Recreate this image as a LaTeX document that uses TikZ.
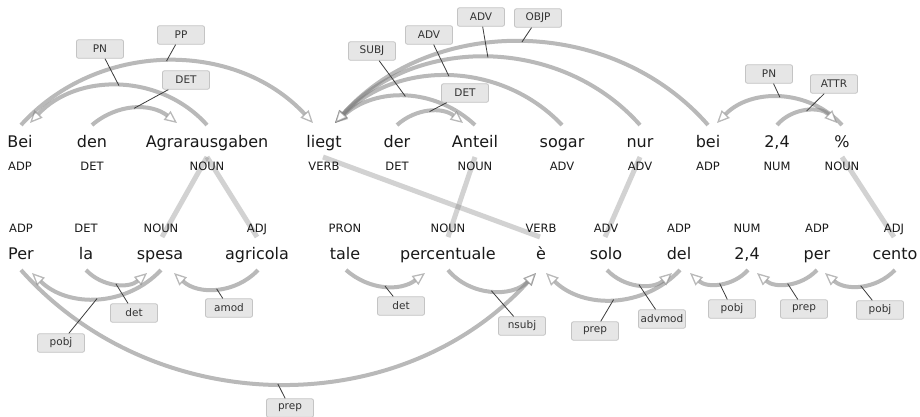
\documentclass[tikz,border=0pt]{standalone}
\usepackage{fontspec}
\setmainfont{DejaVu Sans}
\usetikzlibrary{arrows.meta}
\pgfdeclarelayer{bg}
\pgfsetlayers{bg,main}
\definecolor{arcgray}{RGB}{128,128,128}
\definecolor{boxfill}{RGB}{230,230,230}
\definecolor{boxline}{RGB}{196,196,196}
\definecolor{leadc}{RGB}{60,60,60}
\begin{document}
\begin{tikzpicture}[x=1pt,y=-1pt,
  word/.style={anchor=base,font=\fontsize{16}{18}\selectfont,inner sep=0pt,text=black!90},
  tag/.style={anchor=base,font=\fontsize{11.5}{13}\selectfont,inner sep=0pt,text=black!90},
  dep/.style={draw=arcgray,draw opacity=0.55,line width=4pt,
    -{Triangle[length=12.5pt,width=11pt,line width=1.3pt,fill=white]}},
  alignln/.style={draw=gray,draw opacity=0.35,line width=5pt},
  lbl/.style={draw=boxline,fill=boxfill,rounded corners=2pt,line width=0.8pt,
    minimum width=47pt,minimum height=18.5pt,inner sep=1pt,
    font=\fontsize{10.5}{12}\selectfont,text=black!80},
  lead/.style={draw=leadc,line width=0.8pt}]
\useasboundingbox (0,0) rectangle (920,416);

% top words
\node[word] (wBei) at (20,147) {Bei};
\node[word] (wden) at (92,147) {den};
\node[word] (wAgrar) at (207,147) {Agrarausgaben};
\node[word] (wliegt) at (324,147) {liegt};
\node[word] (wder) at (397,147) {der};
\node[word] (wAnteil) at (475,147) {Anteil};
\node[word] (wsogar) at (562,147) {sogar};
\node[word] (wnur) at (640,147) {nur};
\node[word] (wbei) at (708,147) {bei};
\node[word] (wzA) at (777,147) {2,4};
\node[word] (wpct) at (842,147) {\%};
% top tags
\node[tag] (tBei) at (20,170) {ADP};
\node[tag] (tden) at (92,170) {DET};
\node[tag] (tAgrar) at (207,170) {NOUN};
\node[tag] (tliegt) at (324,170) {VERB};
\node[tag] (tder) at (397,170) {DET};
\node[tag] (tAnteil) at (475,170) {NOUN};
\node[tag] (tsogar) at (562,170) {ADV};
\node[tag] (tnur) at (640,170) {ADV};
\node[tag] (tbei) at (708,170) {ADP};
\node[tag] (tzA) at (777,170) {NUM};
\node[tag] (tpct) at (842,170) {NOUN};
% bottom tags
\node[tag] (tPer) at (21,232) {ADP};
\node[tag] (tla) at (86,232) {DET};
\node[tag] (tspesa) at (161,232) {NOUN};
\node[tag] (tagricola) at (257,232) {ADJ};
\node[tag] (ttale) at (345,232) {PRON};
\node[tag] (tperc) at (448,232) {NOUN};
\node[tag] (te) at (541,232) {VERB};
\node[tag] (tsolo) at (606,232) {ADV};
\node[tag] (tdel) at (679,232) {ADP};
\node[tag] (tzB) at (747,232) {NUM};
\node[tag] (tper) at (817,232) {ADP};
\node[tag] (tcento) at (894,232) {ADJ};
% bottom words
\node[word] (wPer) at (21,259) {Per};
\node[word] (wla) at (86,259) {la};
\node[word] (wspesa) at (160,259) {spesa};
\node[word] (wagricola) at (257,259) {agricola};
\node[word] (wtale) at (345,259) {tale};
\node[word] (wperc) at (448,259) {percentuale};
\node[word] (we) at (541,259) {è};
\node[word] (wsolo) at (606,259) {solo};
\node[word] (wdel) at (679,259) {del};
\node[word] (wzB) at (747,259) {2,4};
\node[word] (wper) at (817,259) {per};
\node[word] (wcento) at (895,259) {cento};

% alignment lines
\begin{pgfonlayer}{bg}
\fill[white] (0,0) rectangle (920,416);
\draw[alignln] ([yshift=-10]wAgrar.base) -- ([xshift=2,yshift=22]wspesa.base);
\draw[alignln] ([yshift=-10]wAgrar.base) -- ([yshift=22]wagricola.base);
\draw[alignln] ([xshift=-1,yshift=-10]wliegt.base) -- ([xshift=-1,yshift=22]we.base);
\draw[alignln] ([yshift=-10]wAnteil.base) -- ([yshift=22]wperc.base);
\draw[alignln] ([yshift=-10]wnur.base) -- ([xshift=-1,yshift=22]wsolo.base);
\draw[alignln] ([yshift=-10]wpct.base) -- ([xshift=-1,yshift=22]wcento.base);
\end{pgfonlayer}

% top arcs
\draw[dep] ([yshift=22]wden.base) to[bend left=39] coordinate[pos=.5] (m1) ([xshift=-30,yshift=24]wAgrar.base);
\draw[dep] ([yshift=22]wAgrar.base) to[bend right=47.6] coordinate[pos=.5] (m2) ([xshift=10,yshift=24]wBei.base);
\draw[dep] ([xshift=1,yshift=22]wBei.base) to[bend left=47.4] coordinate[pos=.5] (m3) ([xshift=-11,yshift=24]wliegt.base);
\draw[dep] ([yshift=22]wAnteil.base) to[bend right=42.2] coordinate[pos=.5] (m4) ([xshift=11,yshift=24]wliegt.base);
\draw[dep] ([yshift=22]wsogar.base) to[bend right=45.9] coordinate[pos=.5] (m5) ([xshift=11,yshift=24]wliegt.base);
\draw[dep] ([yshift=22]wnur.base) to[bend right=48] coordinate[pos=.5] (m6) ([xshift=11,yshift=24]wliegt.base);
\draw[dep] ([yshift=22]wbei.base) to[bend right=48.5] coordinate[pos=.5] (m7) ([xshift=11,yshift=24]wliegt.base);
\draw[dep] ([yshift=22]wder.base) to[bend left=40] coordinate[pos=.5] (m8) ([xshift=-12,yshift=24]wAnteil.base);
\draw[dep] ([yshift=22]wpct.base) to[bend right=46.7] coordinate[pos=.5] (m9) ([xshift=9,yshift=24]wbei.base);
\draw[dep] ([yshift=22]wzA.base) to[bend left=47.5] coordinate[pos=.5] (m10) ([xshift=-5,yshift=24]wpct.base);

% bottom arcs
\draw[dep] ([yshift=-11]wla.base) to[bend right=43.6] coordinate[pos=.5] (n1) ([xshift=-13,yshift=-14]wspesa.base);
\draw[dep] ([xshift=1,yshift=-11]wspesa.base) to[bend left=45.4] coordinate[pos=.5] (n2) ([xshift=11,yshift=-14]wPer.base);
\draw[dep] ([xshift=1,yshift=-11]wagricola.base) to[bend left=44.6] coordinate[pos=.5] (n3) ([xshift=14,yshift=-14]wspesa.base);
\draw[dep] ([yshift=-11]wPer.base) to[bend right=48] coordinate[pos=.5] (n4) ([xshift=-5,yshift=-14]we.base);
\draw[dep] ([xshift=1,yshift=-11]wtale.base) to[bend right=39] coordinate[pos=.5] (n5) ([xshift=-23,yshift=-14]wperc.base);
\draw[dep] ([yshift=-11]wperc.base) to[bend right=48] coordinate[pos=.5] (n6) ([xshift=-5,yshift=-14]we.base);
\draw[dep] ([xshift=1,yshift=-11]wdel.base) to[bend left=45.4] coordinate[pos=.5] (n7) ([xshift=5,yshift=-14]we.base);
\draw[dep] ([xshift=1,yshift=-11]wsolo.base) to[bend right=43.6] coordinate[pos=.5] (n8) ([xshift=-7,yshift=-14]wdel.base);
\draw[dep] ([xshift=1,yshift=-11]wzB.base) to[bend left=45] coordinate[pos=.5] (n9) ([xshift=11,yshift=-14]wdel.base);
\draw[dep] ([yshift=-11]wper.base) to[bend left=43.6] coordinate[pos=.5] (n10) ([xshift=10,yshift=-14]wzB.base);
\draw[dep] ([yshift=-11]wcento.base) to[bend left=43.6] coordinate[pos=.5] (n11) ([xshift=8,yshift=-14]wper.base);

% top labels
\node[lbl] (l1) at (186,80) {DET};
\node[lbl] (l2) at (100,49) {PN};
\node[lbl] (l3) at (181,35) {PP};
\node[lbl] (l4) at (372,51) {SUBJ};
\node[lbl] (l5) at (429,35) {ADV};
\node[lbl] (l6) at (481,17) {ADV};
\node[lbl] (l7) at (538,18) {OBJP};
\node[lbl] (l8) at (465,93) {DET};
\node[lbl] (l9) at (769,74) {PN};
\node[lbl] (l10) at (834,84) {ATTR};
% bottom labels
\node[lbl] (k1) at (134,313) {det};
\node[lbl] (k2) at (61,343) {pobj};
\node[lbl] (k3) at (229,308) {amod};
\node[lbl] (k4) at (290,408) {prep};
\node[lbl] (k5) at (401,306) {det};
\node[lbl] (k6) at (522,326) {nsubj};
\node[lbl] (k7) at (595,331) {prep};
\node[lbl] (k8) at (662,319) {advmod};
\node[lbl] (k9) at (732,309) {pobj};
\node[lbl] (k10) at (804,309) {prep};
\node[lbl] (k11) at (880,310) {pobj};

% leader lines
\foreach \b/\m in {l1/m1,l2/m2,l3/m3,l4/m4,l5/m5,l6/m6,l7/m7,l8/m8,l9/m9,l10/m10,
  k1/n1,k2/n2,k3/n3,k4/n4,k5/n5,k6/n6,k7/n7,k8/n8,k9/n9,k10/n10,k11/n11}
  \draw[lead] (\b) -- (\m);
\end{tikzpicture}
\end{document}
